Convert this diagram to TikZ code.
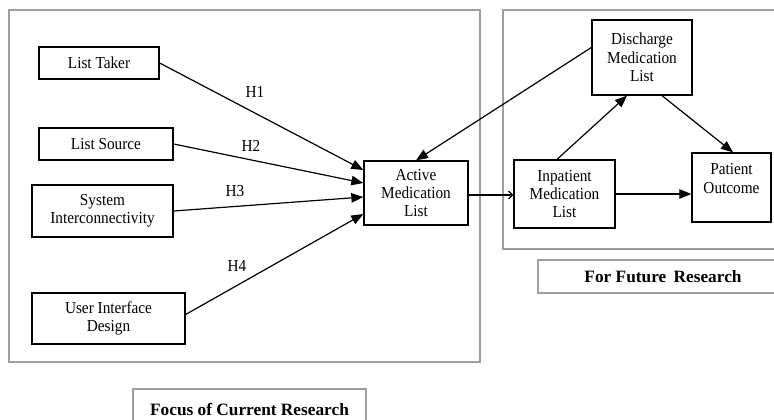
\documentclass[tikz,border=0pt]{standalone}
\usepackage{fontspec}
\setmainfont{Liberation Serif}[FakeStretch=0.91]
\newfontfamily\plainserif{Liberation Serif}
\usetikzlibrary{arrows.meta,calc}
\begin{document}
\begin{tikzpicture}[x=1pt,y=-1pt,
  frame/.style={draw=black!38,line width=1.2pt},
  box/.style={draw=black,line width=1.3pt,rectangle,inner sep=0pt,align=center,
    font=\fontsize{16.8}{18.3}\selectfont},
  hlabel/.style={font=\fontsize{16.8}{18.3}\selectfont,inner sep=0pt},
  titlebox/.style={frame,rectangle,inner sep=0pt,
    font=\plainserif\bfseries\fontsize{17.3}{20}\selectfont},
  arr/.style={line width=1.2pt,-{Triangle[length=12pt,width=9.5pt]}},
  oarr/.style={line width=1.2pt,-{Straight Barb[length=4pt,width=8pt]}}]
\useasboundingbox (0,0) rectangle (774,420);
% frames
\draw[frame] (9,10) rectangle (480,362);
\draw[frame] (503,10) rectangle (785,249);
\node[titlebox,minimum width=233pt,minimum height=42pt] (focus) at (249.5,410) {Focus of Current Research};
\node[titlebox,minimum width=250pt,minimum height=33pt] (future) at (663,276.5) {For Future\hspace{3pt} Research};
% boxes
\node[box,minimum width=120pt,minimum height=32pt] (lt) at (99,63) {List Taker};
\node[box,minimum width=134pt,minimum height=32pt] (ls) at (106,144) {List Source};
\node[box,minimum width=141pt,minimum height=52pt] (si) at (102.5,211) {System\\Interconnectivity};
\node[box,minimum width=153pt,minimum height=51pt] (uid) at (108.5,318.5) {User Interface\\Design};
\node[box,minimum width=104pt,minimum height=64pt] (aml) at (416,193) {Active\\Medication\\List};
\node[box,minimum width=101pt,minimum height=68pt] (iml) at (564.5,194) {Inpatient\\Medication\\List};
\node[box,minimum width=100pt,minimum height=75pt] (dml) at (642,57.5) {Discharge\\Medication\\List};
\node[box,minimum width=79pt,minimum height=69pt] (po) at (731.5,187.5) {Patient\\Outcome\\\mbox{}};
% hypothesis labels
\node[hlabel] (h1) at (255,91.5) {H1};
\node[hlabel] (h2) at (251,146) {H2};
\node[hlabel] (h3) at (235,191) {H3};
\node[hlabel] (h4) at (237,266) {H4};
% connectors
\coordinate (amlout) at ($(aml.east)+(0,2)$);
\draw[arr] (lt.east) -- ($(aml.west)+(0,-23)$);
\draw[arr] (ls.east) -- ($(aml.west)+(0,-10)$);
\draw[arr] (si.east) -- ($(aml.west)+(0,4)$);
\draw[arr] ($(uid.east)+(0,-4)$) -- ($(aml.west)+(0,21)$);
\draw[oarr] (amlout) -- (amlout -| iml.west);
\draw[arr] ($(dml.west)+(0,-10)$) -- (aml.north);
\draw[arr] ($(iml.north)+(-7.5,0)$) -- ($(dml.south)+(-15,0)$);
\draw[arr] ($(dml.south)+(20,0)$) -- ($(po.north)+(1.5,0)$);
\draw[arr] (iml.east) -- (iml.east -| po.west);
\end{tikzpicture}
\end{document}
